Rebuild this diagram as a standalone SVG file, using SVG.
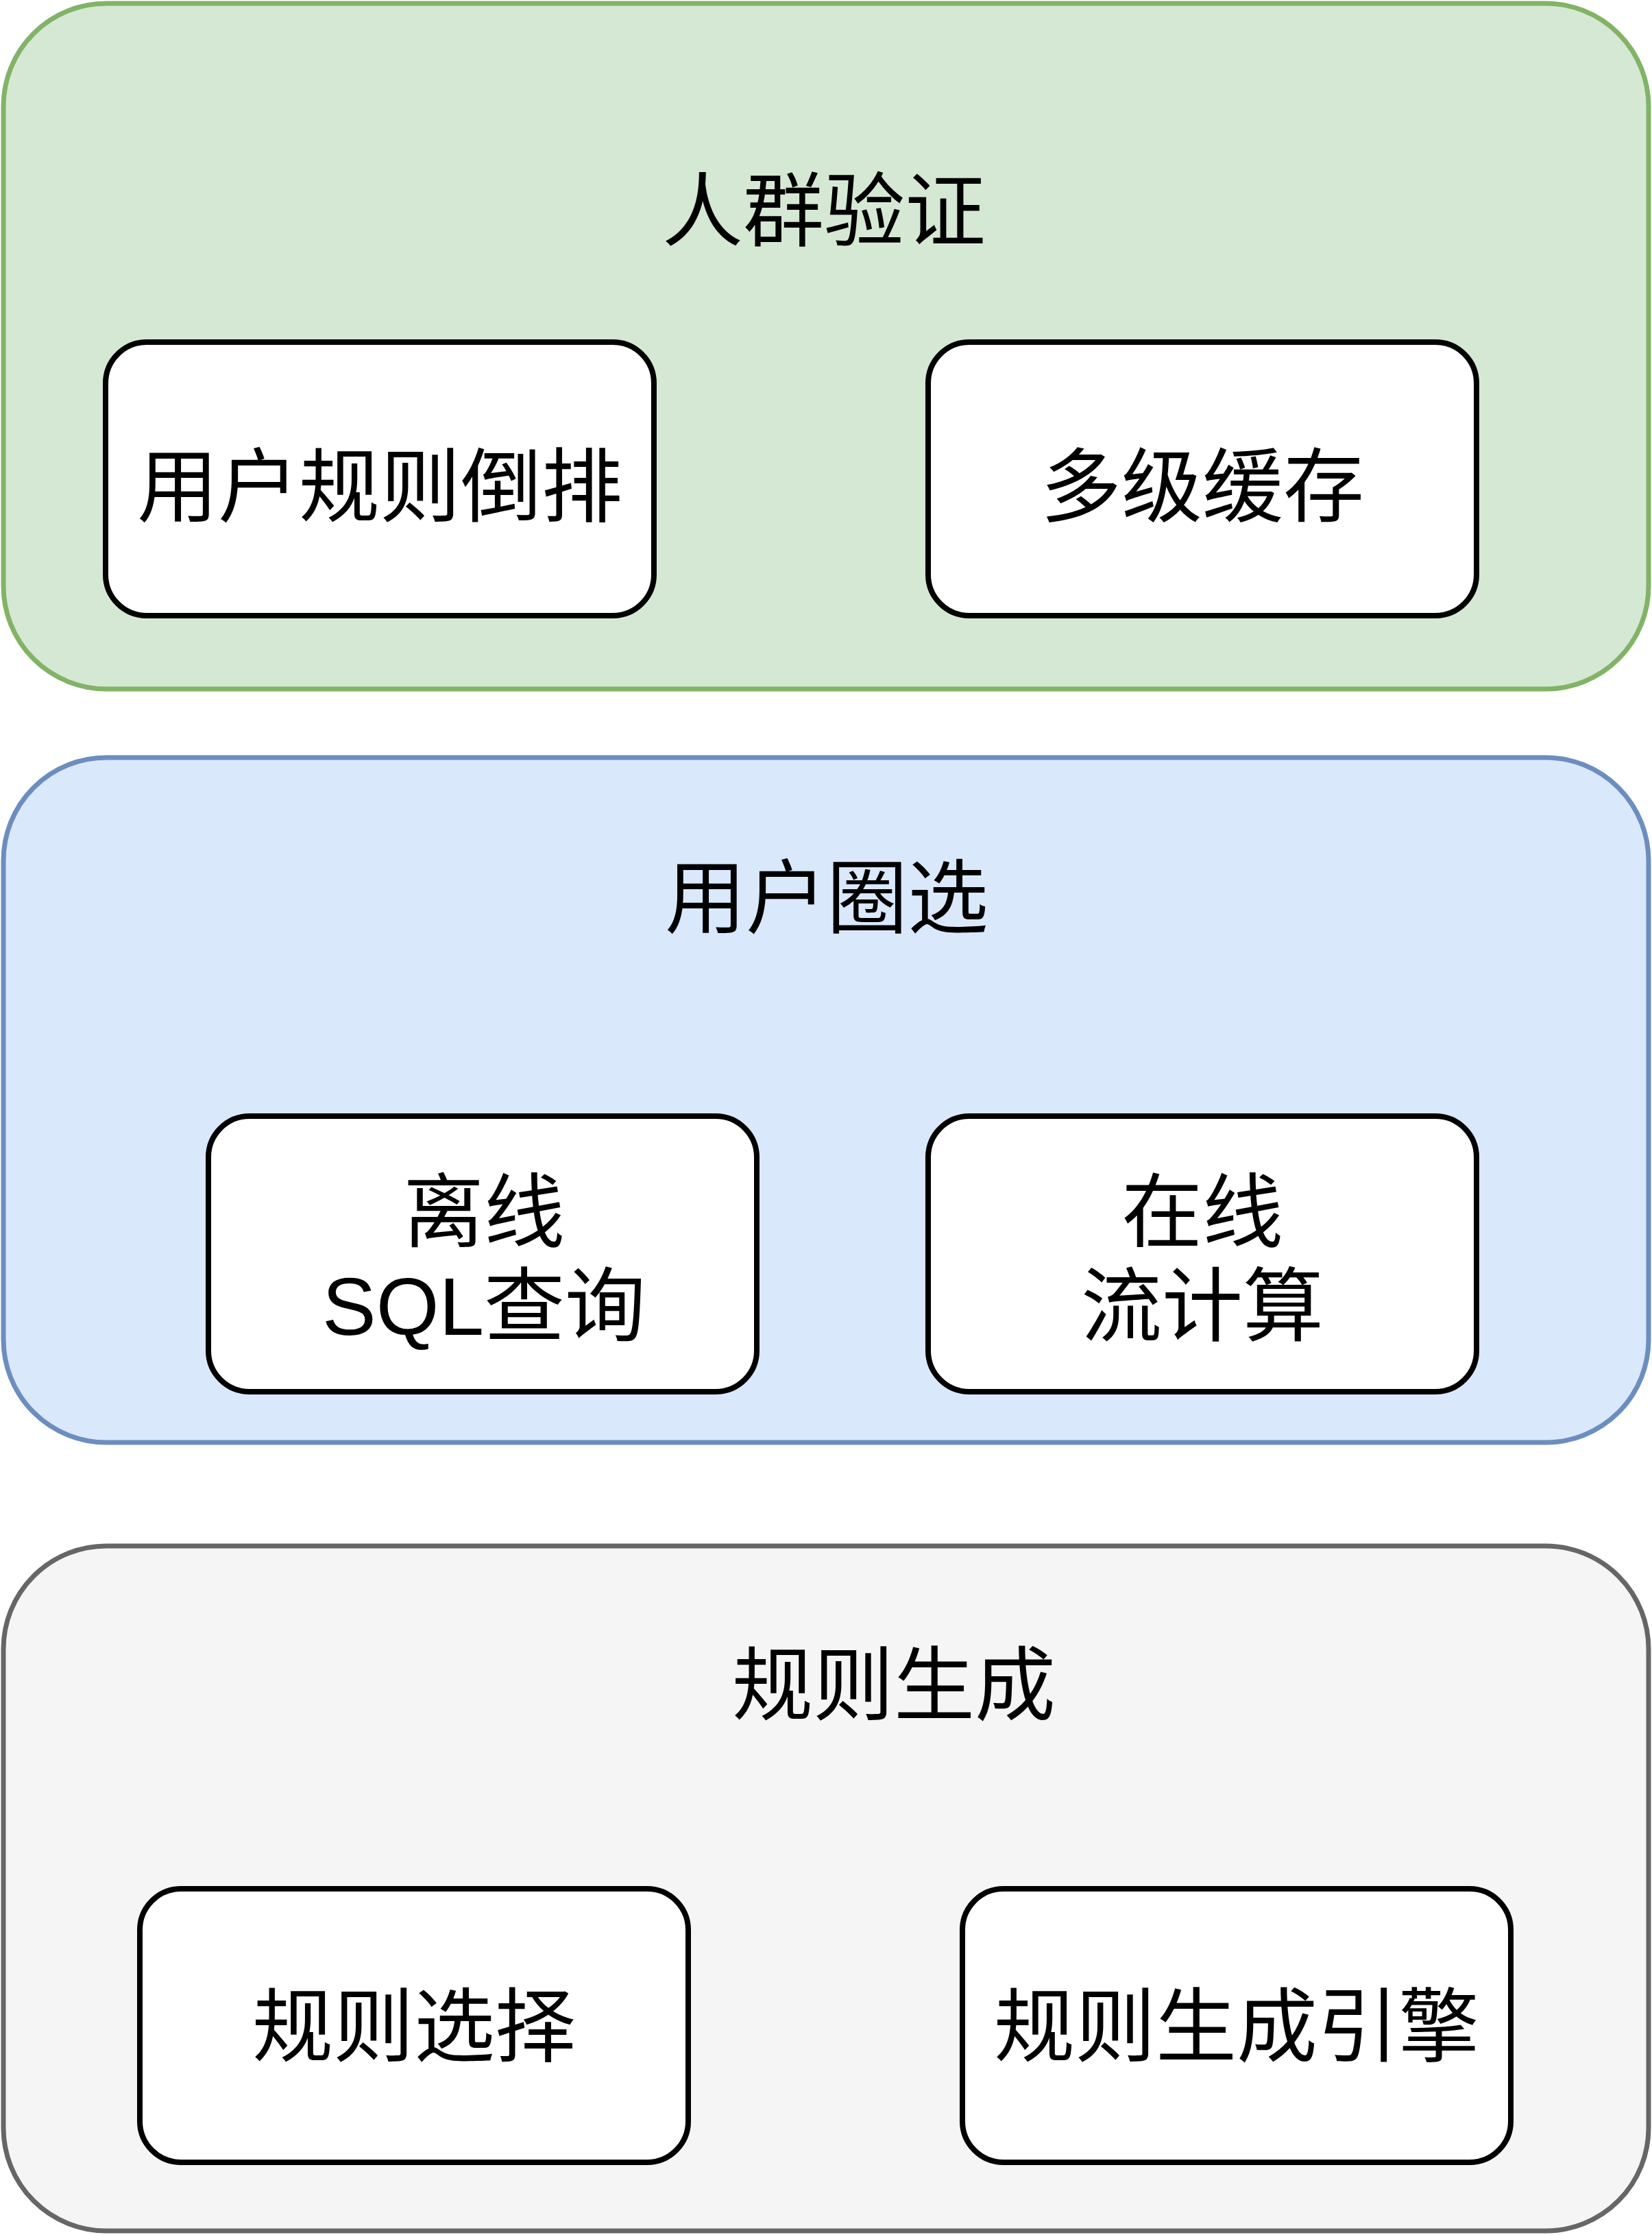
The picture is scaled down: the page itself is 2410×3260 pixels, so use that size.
<svg xmlns="http://www.w3.org/2000/svg" width="2410" height="3260" viewBox="0 0 2410 3260">
<style>
.t{font-family:"Liberation Sans","Noto Sans CJK SC",sans-serif;font-size:118px;fill:#000;text-anchor:middle}
.b{fill:#fff;stroke:#000;stroke-width:8}
</style>
<rect width="2410" height="3260" fill="#fff"/>
<g id="grp-verify">
<rect x="5" y="5" width="2400" height="1000" rx="150" fill="#d5e8d4" stroke="#82b366" stroke-width="7"/>
<text class="t" x="1202" y="350">人群验证</text>
</g>
<g id="node-invert"><rect class="b" x="154" y="499" width="800" height="399" rx="60"/><text class="t" x="554" y="752">用户规则倒排</text></g>
<g id="node-cache"><rect class="b" x="1354" y="499" width="800" height="399" rx="60"/><text class="t" x="1754" y="752">多级缓存</text></g>
<g id="grp-select">
<rect x="5" y="1105" width="2400" height="999" rx="150" fill="#dae8fc" stroke="#6c8ebf" stroke-width="7"/>
<text class="t" x="1206" y="1352">用户圈选</text>
</g>
<g id="node-offline"><rect class="b" x="304" y="1628" width="800" height="402" rx="60"/><text class="t" x="706" y="1810">离线</text><text class="t" x="706" y="1947">SQL查询</text></g>
<g id="node-online"><rect class="b" x="1354" y="1628" width="800" height="402" rx="60"/><text class="t" x="1754" y="1810">在线</text><text class="t" x="1754" y="1947">流计算</text></g>
<g id="grp-gen">
<rect x="5" y="2255" width="2400" height="999" rx="150" fill="#f5f5f5" stroke="#666666" stroke-width="7"/>
<text class="t" x="1304" y="2500">规则生成</text>
</g>
<g id="node-choose"><rect class="b" x="204" y="2755" width="800" height="399" rx="60"/><text class="t" x="604" y="2998">规则选择</text></g>
<g id="node-engine"><rect class="b" x="1404" y="2755" width="800" height="399" rx="60"/><text class="t" x="1804" y="2998">规则生成引擎</text></g>
<g id="connectors"/>
</svg>
